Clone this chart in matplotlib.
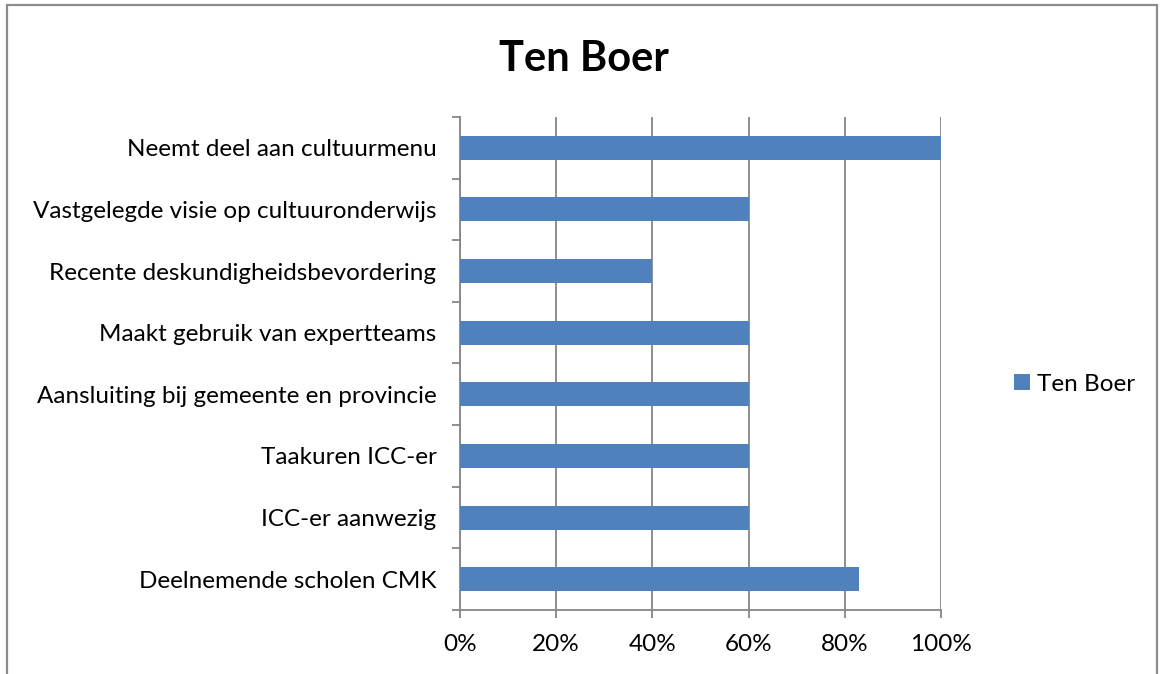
import matplotlib.pyplot as plt
from matplotlib.patches import Rectangle
from matplotlib.ticker import FixedLocator, PercentFormatter

plt.rcParams["font.family"] = ["Lato", "DejaVu Sans"]

TITLE = "Ten Boer"
CATEGORIES = [
    "Deelnemende scholen CMK",
    "ICC-er aanwezig",
    "Taakuren ICC-er",
    "Aansluiting bij gemeente en provincie",
    "Maakt gebruik van expertteams",
    "Recente deskundigheidsbevordering",
    "Vastgelegde visie op cultuuronderwijs",
    "Neemt deel aan cultuurmenu",
]
VALUES = [0.83, 0.60, 0.60, 0.60, 0.60, 0.40, 0.60, 1.00]
X_TICKS = [0.0, 0.2, 0.4, 0.6, 0.8, 1.0]

BAR_COLOR = "#4F81BD"
GRID_COLOR = "#868686"
LABEL_SIZE = 17.5

fig = plt.figure(figsize=(11.6, 6.74), dpi=100)
ax = fig.add_axes([0.3966, 0.095, 0.4146, 0.7314])

positions = list(range(len(CATEGORIES)))
ax.barh(positions, VALUES, height=0.39, color=BAR_COLOR, label=TITLE, zorder=3)

ax.set_xlim(0, 1)
ax.set_ylim(-0.5, len(CATEGORIES) - 0.5)
ax.set_xticks(X_TICKS)
ax.xaxis.set_major_formatter(PercentFormatter(1.0, decimals=0))
ax.grid(axis="x", color=GRID_COLOR, linewidth=1.3, zorder=0)

ax.set_yticks(positions)
ax.set_yticklabels(CATEGORIES)
ax.yaxis.set_minor_locator(FixedLocator([p - 0.5 for p in positions] + [len(CATEGORIES) - 0.5]))
ax.tick_params(axis="y", which="major", length=0, pad=17, labelsize=LABEL_SIZE)
ax.tick_params(axis="y", which="minor", length=6, width=1.3, color=GRID_COLOR)
ax.tick_params(axis="x", length=6, width=1.3, color=GRID_COLOR, pad=11, labelsize=LABEL_SIZE)

for side in ("top", "right"):
    ax.spines[side].set_visible(False)
for side in ("left", "bottom"):
    ax.spines[side].set_color(GRID_COLOR)
    ax.spines[side].set_linewidth(1.3)

fig.text(0.503, 0.913, TITLE, ha="center", va="center", fontsize=30, fontweight="bold")

fig.legend(
    loc="center left",
    bbox_to_anchor=(0.874, 0.43),
    frameon=False,
    fontsize=LABEL_SIZE,
    handlelength=0.65,
    handleheight=0.65,
    handletextpad=0.3,
    borderaxespad=0,
    borderpad=0,
)

# outer chart frame, cut off at the bottom like the source
fig.add_artist(Rectangle((0.006, -0.05), 0.991, 1.043, transform=fig.transFigure,
                         fill=False, edgecolor="#8C8C8C", linewidth=1.6))

fig.savefig("out.png", dpi=100)
